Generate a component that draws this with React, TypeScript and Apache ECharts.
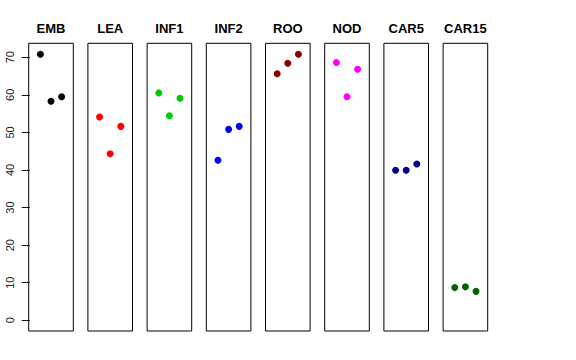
import React, { useEffect, useRef } from "react";
import * as echarts from "echarts";

const categories = ["EMB", "LEA", "INF1", "INF2", "ROO", "NOD", "CAR5", "CAR15"];
const colors = ["#000000", "#FF0000", "#00CD00", "#0000FF", "#8B0000", "#FF00FF", "#00008B", "#006400"];
const values: number[][] = [
  [70.8, 58.3, 59.5],
  [54.1, 44.3, 51.6],
  [60.5, 54.4, 59.1],
  [42.6, 50.8, 51.6],
  [65.6, 68.4, 70.8],
  [68.6, 59.5, 66.8],
  [39.9, 39.9, 41.6],
  [8.7, 8.9, 7.7],
];
const yTicks = [0, 10, 20, 30, 40, 50, 60, 70];

export default function App() {
  const ref = useRef<HTMLDivElement>(null);
  useEffect(() => {
    const chart = echarts.init(ref.current!, undefined, { renderer: "svg" });
    const n = categories.length;
    const left0 = 28.7;
    const step = 59.2;
    const w = 44.6;
    const top = 43.3;
    const h = 287.7;
    const grids = [];
    const xAxes = [];
    const yAxes = [];
    const titles = [];
    const series = [];
    for (let i = 0; i < n; i++) {
      const l = left0 + i * step;
      grids.push({ left: l, top, width: w, height: h, show: true, borderColor: "#000", borderWidth: 1, backgroundColor: "transparent" });
      xAxes.push({
        gridIndex: i, type: "value", min: -0.1, max: 4.1,
        axisLine: { show: false }, axisTick: { show: false }, axisLabel: { show: false }, splitLine: { show: false },
      });
      yAxes.push({
        gridIndex: i, type: "value", min: -2.85, max: 73.7,
        axisLine: { show: false },
        axisTick: i === 0 ? { show: true, length: 8, customValues: yTicks, lineStyle: { color: "#000" } } : { show: false },
        axisLabel: i === 0 ? {
          show: true, customValues: yTicks, rotate: 90, margin: 13, fontSize: 11,
          color: "#222", fontFamily: "Liberation Sans, Arial, sans-serif",
        } : { show: false },
        splitLine: { show: false },
      });
      titles.push({
        text: categories[i], left: l + w / 2, top: 22, textAlign: "center", padding: 0,
        textStyle: { fontSize: 13, fontWeight: "bold", color: "#000", fontFamily: "Liberation Sans, Arial, sans-serif" },
      });
      series.push({
        type: "scatter", xAxisIndex: i, yAxisIndex: i, symbolSize: 7,
        itemStyle: { color: colors[i], opacity: 1 },
        emphasis: { disabled: true },
        data: values[i].map((v, j) => [j + 1, v]),
      });
    }
    chart.setOption({
      animation: false,
      backgroundColor: "#fff",
      title: titles,
      grid: grids,
      xAxis: xAxes,
      yAxis: yAxes,
      series,
    });
    return () => chart.dispose();
  }, []);
  return <div ref={ref} style={{ position: "fixed", left: 0, top: 0, width: 576, height: 360 }} />;
}
